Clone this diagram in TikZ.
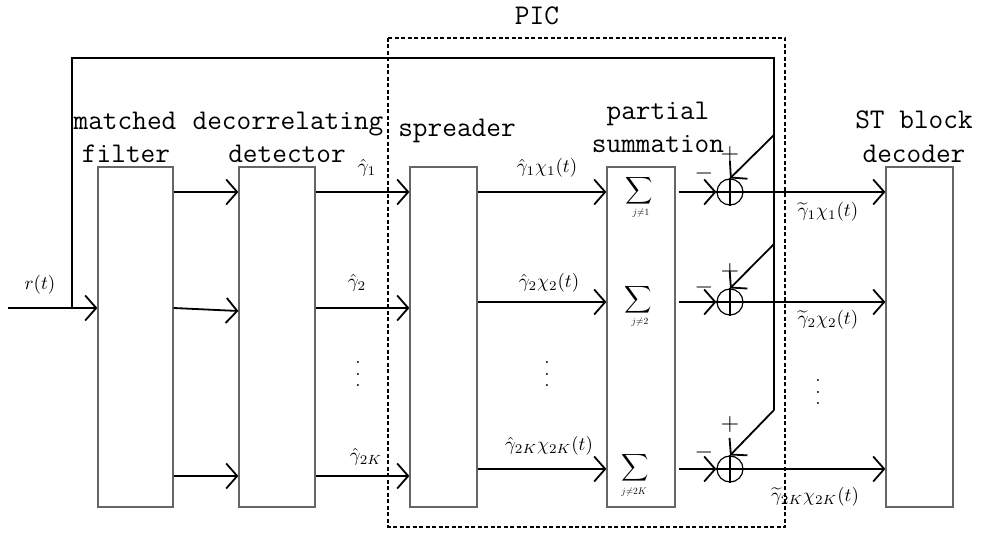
\RequirePackage{fix-cm}
\documentclass[tikz,border=0pt]{standalone}
\usepackage{amsmath}
\usepackage{graphicx}
\usetikzlibrary{arrows.meta}
\newcommand{\M}[1]{\scalebox{1.9}{$#1$}}
\newcommand{\Sg}[1]{\scalebox{2.4}{$#1$}}
\newcommand{\myvd}{\scalebox{1.9}{\vbox{\baselineskip=6pt\lineskiplimit=0pt\hbox{.}\hbox{.}\hbox{.}}}}
\begin{document}
\begin{tikzpicture}[x=1pt,y=-1pt,
  box/.style={draw=black!60, line width=1.2pt, rectangle, inner sep=0pt, minimum height=340pt},
  wire/.style={line width=1.8pt, black},
  arr/.style={wire, -{Straight Barb[length=11pt,width=25pt,line width=1.8pt]}},
  txt/.style={font=\ttfamily\fontsize{28.5}{30}\selectfont, inner sep=0pt, anchor=base},
  mlab/.style={inner sep=0pt},
  summer/.style={circle, draw, line width=1.2pt, minimum size=26pt, inner sep=0pt},
  picbox/.style={line width=1.5pt, dash pattern=on 4pt off 2.5pt}]
\useasboundingbox (0,0) rectangle (983,534);

% PIC dashed box
\coordinate (picNW) at (388,38);
\coordinate (picSE) at (785,527);
\draw[picbox] (picNW) rectangle (picSE);
\node[txt] (piclabel) at (537,25) {PIC};

% blocks
\node[box, minimum width=75pt] (mf) at (135.5,337) {};
\node[box, minimum width=76pt] (dd) at (277,337) {};
\node[box, minimum width=67pt] (sp) at (443.5,337) {};
\node[box, minimum width=68pt] (ps) at (641,337) {};
\node[box, minimum width=67pt] (st) at (919.5,337) {};

% block labels
\node[txt] (tmf1) at (125,130) {matched};
\node[txt] (tmf2) at (126,163) {filter};
\node[txt] (tdd1) at (288,130) {decorrelating};
\node[txt] (tdd2) at (287,163) {detector};
\node[txt] (tsp) at (457,137) {spreader};
\node[txt] (tps1) at (658,120) {partial};
\node[txt] (tps2) at (658,153) {summation};
\node[txt] (tst1) at (914,129) {ST block};
\node[txt] (tst2) at (914,163) {decoder};

% row coordinates
\coordinate (r1) at (0,192);
\coordinate (r2) at (0,308);
\coordinate (r2b) at (0,311);
\coordinate (r3) at (0,476);
\coordinate (in) at (8,308);
\coordinate (fb0) at (72,308);
\coordinate (fbA) at (72,58);
\coordinate (fbB) at (774,58);
\coordinate (fb1) at (774,135);
\coordinate (fb2) at (774,244);
\coordinate (fb3) at (774,410);

% summers
\node[summer] (c1) at (730,192) {};
\node[summer] (c2) at (730,302) {};
\node[summer] (c3) at (730,469) {};
\foreach \c in {c1,c2,c3}{
  \draw[line width=1.2pt] (\c.north) -- (\c.south) (\c.west) -- (\c.east);
}

% input and feedback
\draw[arr] (in) -- (mf.west |- in);
\draw[wire] (fb0) -- (fbA) -- (fbB) -- (fb3);
\draw[arr] (fb1) -- (c1.north);
\draw[arr] (fb2) -- (c2.north);
\draw[arr] (fb3) -- (c3.north);

% matched filter -> decorrelator
\draw[arr] (mf.east |- r1) -- (dd.west |- r1);
\draw[arr] (mf.east |- r2) -- (dd.west |- r2b);
\draw[arr] (mf.east |- r3) -- (dd.west |- r3);

% decorrelator -> spreader
\draw[arr] (dd.east |- r1) -- (sp.west |- r1);
\draw[arr] (dd.east |- r2) -- (sp.west |- r2);
\draw[arr] (dd.east |- r3) -- (sp.west |- r3);

% spreader -> partial summation
\draw[arr] (sp.east |- c1) -- (ps.west |- c1);
\draw[arr] (sp.east |- c2) -- (ps.west |- c2);
\draw[arr] (sp.east |- c3) -- (ps.west |- c3);

% partial summation -> summers -> decoder
\foreach \c in {c1,c2,c3}{
  \draw[arr] ([xshift=3pt]ps.east |- \c) -- (\c.west);
  \draw[arr] (\c.east) -- (st.west |- \c);
}

% signs
\node[mlab] (p1) at (730,155) {\Sg{+}};
\node[mlab] (m1) at (704,174) {\Sg{-}};
\node[mlab] (p2) at (730,272) {\Sg{+}};
\node[mlab] (m2) at (704,288) {\Sg{-}};
\node[mlab] (p3) at (730,425) {\Sg{+}};
\node[mlab] (m3) at (704,453) {\Sg{-}};

% sums
\node[mlab] (S1) at (639,191) {\M{\displaystyle\sum}};
\node[mlab] (j1) at (641,213) {\scalebox{0.95}{$j{\neq}1$}};
\node[mlab] (S2) at (638,300) {\M{\displaystyle\sum}};
\node[mlab] (j2) at (640,322) {\scalebox{0.95}{$j{\neq}2$}};
\node[mlab] (S3) at (635,468) {\M{\displaystyle\sum}};
\node[mlab] (j3) at (634,492) {\scalebox{0.95}{$j{\neq}2K$}};

% math labels
\node[mlab] (g1) at (367,168) {\M{\hat{\gamma}_1}};
\node[mlab] (g2) at (357,283) {\M{\hat{\gamma}_2}};
\node[mlab] (g3) at (366,457) {\M{\hat{\gamma}_{2K}}};
\node[mlab] (gx1) at (547,168) {\M{\hat{\gamma}_1\chi_1(t)}};
\node[mlab] (gx2) at (549,283) {\M{\hat{\gamma}_2\chi_2(t)}};
\node[mlab] (gx3) at (549,446) {\M{\hat{\gamma}_{2K}\chi_{2K}(t)}};
\node[mlab] (tg1) at (828,212) {\M{\widetilde{\gamma}_1\chi_1(t)}};
\node[mlab] (tg2) at (828,320) {\M{\widetilde{\gamma}_2\chi_2(t)}};
\node[mlab] (tg3) at (815,497) {\M{\widetilde{\gamma}_{2K}\chi_{2K}(t)}};
\node[mlab] (rt) at (40,285) {\M{r(t)}};

% vertical dots
\node[mlab] (vd1) at (358,374) {\myvd};
\node[mlab] (vd2) at (547,374) {\myvd};
\node[mlab] (vd3) at (818,392) {\myvd};
\end{tikzpicture}
\end{document}
